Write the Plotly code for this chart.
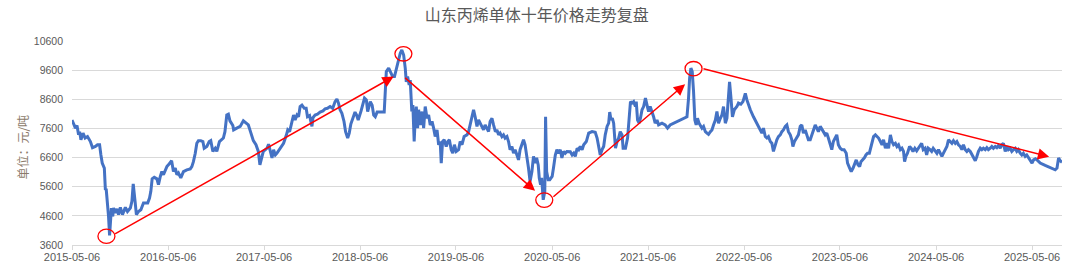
import plotly.graph_objects as go

title_text = "山东丙烯单体十年价格走势复盘"
y_title_text = "单位：元/吨"
tick_dates = ["2015-05-06", "2016-05-06", "2017-05-06", "2018-05-06", "2019-05-06", "2020-05-06",
              "2021-05-06", "2022-05-06", "2023-05-06", "2024-05-06", "2025-05-06"]
y_ticks = [3600, 4600, 5600, 6600, 7600, 8600, 9600, 10600]
y_tick_text = ["3600", "4600", "5600", "6600", "7600", "8600", "9600", "10600"]

dates = [
    # 2015-05 .. 2016-05
    "2015-05-06", "2015-05-12", "2015-05-19", "2015-05-25", "2015-05-31", "2015-06-04", "2015-06-09", "2015-06-17",
    "2015-06-25", "2015-07-04", "2015-07-15", "2015-07-23", "2015-08-03", "2015-08-11", "2015-08-19", "2015-08-24",
    "2015-08-29", "2015-09-06", "2015-09-10", "2015-09-13", "2015-09-18", "2015-09-22", "2015-09-26", "2015-09-29",
    "2015-10-03", "2015-10-08", "2015-10-11", "2015-10-18", "2015-10-24", "2015-10-30", "2015-11-06", "2015-11-14",
    "2015-11-25", "2015-12-03", "2015-12-14", "2015-12-20", "2015-12-25", "2016-01-01", "2016-01-06", "2016-01-14",
    "2016-01-23", "2016-02-02", "2016-02-18", "2016-02-25", "2016-03-01", "2016-03-06", "2016-03-14", "2016-03-24",
    "2016-03-30", "2016-04-06", "2016-04-12", "2016-04-18", "2016-04-25", "2016-05-01",
    # 2016-05 .. 2017-05
    "2016-05-07", "2016-05-14", "2016-05-19", "2016-05-26", "2016-06-02", "2016-06-08", "2016-06-14", "2016-06-23",
    "2016-07-03", "2016-07-16", "2016-07-29", "2016-08-04", "2016-08-10", "2016-08-17", "2016-08-23", "2016-08-29",
    "2016-09-07", "2016-09-15", "2016-09-20", "2016-09-30", "2016-10-09", "2016-10-15", "2016-10-23", "2016-11-01",
    "2016-11-07", "2016-11-17", "2016-11-26", "2016-12-02", "2016-12-08", "2016-12-15", "2016-12-21", "2016-12-27",
    "2017-01-07", "2017-01-10", "2017-01-22", "2017-02-04", "2017-02-16", "2017-03-01", "2017-03-07", "2017-03-13",
    "2017-03-20", "2017-03-26", "2017-04-05", "2017-04-14", "2017-04-20", "2017-04-27", "2017-05-03",
    # 2017-05 .. 2018-05
    "2017-05-11", "2017-05-17", "2017-05-23", "2017-05-30", "2017-06-05", "2017-06-11", "2017-06-18", "2017-06-24",
    "2017-07-07", "2017-07-19", "2017-07-30", "2017-08-04", "2017-08-11", "2017-08-20", "2017-08-26", "2017-09-01",
    "2017-09-08", "2017-09-14", "2017-09-20", "2017-09-27", "2017-10-06", "2017-10-13", "2017-10-18", "2017-10-26",
    "2017-10-31", "2017-11-04", "2017-11-08", "2017-11-16", "2017-11-25", "2017-12-05", "2017-12-16", "2017-12-24",
    "2018-01-02", "2018-01-12", "2018-01-22", "2018-01-31", "2018-02-07", "2018-02-13", "2018-02-19", "2018-02-26",
    "2018-03-06", "2018-03-12", "2018-03-20", "2018-03-26", "2018-04-01", "2018-04-08", "2018-04-17", "2018-04-23",
    "2018-04-29",
    # 2018-05 .. 2019-05
    "2018-05-10", "2018-05-17", "2018-05-23", "2018-05-30", "2018-06-04", "2018-06-09", "2018-06-14", "2018-06-21",
    "2018-06-27", "2018-07-03", "2018-07-10", "2018-08-06", "2018-08-10", "2018-08-14", "2018-08-23", "2018-08-29",
    "2018-09-07", "2018-09-14", "2018-09-23", "2018-09-29", "2018-10-06", "2018-10-12", "2018-10-19", "2018-10-25",
    "2018-10-29", "2018-11-03", "2018-11-09", "2018-11-13", "2018-11-19", "2018-11-23", "2018-11-28", "2018-12-02",
    "2018-12-06", "2018-12-11", "2018-12-15", "2018-12-21", "2018-12-28", "2019-01-03", "2019-01-09", "2019-01-16",
    "2019-01-22", "2019-01-28", "2019-02-04", "2019-02-10", "2019-02-16", "2019-02-23", "2019-03-01", "2019-03-07",
    "2019-03-11", "2019-03-16", "2019-03-22", "2019-03-30", "2019-04-05", "2019-04-11", "2019-04-18", "2019-04-24",
    "2019-04-30",
    # 2019-05 .. 2020-05
    "2019-05-07", "2019-05-16", "2019-05-22", "2019-05-29", "2019-06-06", "2019-06-17", "2019-06-23", "2019-06-29",
    "2019-07-06", "2019-07-12", "2019-07-18", "2019-07-25", "2019-07-31", "2019-08-06", "2019-08-13", "2019-08-19",
    "2019-08-25", "2019-09-01", "2019-09-07", "2019-09-13", "2019-09-20", "2019-09-26", "2019-10-03", "2019-10-09",
    "2019-10-15", "2019-10-21", "2019-10-28", "2019-11-03", "2019-11-09", "2019-11-16", "2019-11-22", "2019-11-28",
    "2019-12-05", "2019-12-11", "2019-12-17", "2019-12-24", "2019-12-30", "2020-01-05", "2020-01-12", "2020-01-18",
    "2020-01-24", "2020-01-31", "2020-02-06", "2020-02-12", "2020-02-19", "2020-02-25", "2020-03-02", "2020-03-08",
    "2020-03-14", "2020-03-18", "2020-03-23", "2020-03-27", "2020-03-31", "2020-04-02", "2020-04-08", "2020-04-11",
    "2020-04-15", "2020-04-21", "2020-04-27",
    # 2020-05 .. 2021-05
    "2020-05-06", "2020-05-11", "2020-05-18", "2020-05-24", "2020-05-31", "2020-06-06", "2020-06-12", "2020-06-19",
    "2020-06-25", "2020-07-01", "2020-07-14", "2020-07-21", "2020-07-27", "2020-08-02", "2020-08-09", "2020-08-15",
    "2020-08-21", "2020-08-28", "2020-09-03", "2020-09-13", "2020-09-22", "2020-10-05", "2020-10-17", "2020-10-24",
    "2020-10-30", "2020-11-05", "2020-11-12", "2020-11-18", "2020-11-24", "2020-12-01", "2020-12-07", "2020-12-11",
    "2020-12-16", "2020-12-21", "2020-12-26", "2021-01-02", "2021-01-08", "2021-01-14", "2021-01-20", "2021-01-27",
    "2021-01-31", "2021-02-09", "2021-02-17", "2021-02-24", "2021-02-28", "2021-03-06", "2021-03-12", "2021-03-19",
    "2021-03-22", "2021-03-27", "2021-04-02", "2021-04-07", "2021-04-13", "2021-04-19", "2021-04-26", "2021-05-02",
    # 2021-05 .. 2022-05
    "2021-05-08", "2021-05-14", "2021-05-21", "2021-05-27", "2021-06-02", "2021-06-09", "2021-06-15", "2021-06-28",
    "2021-07-10", "2021-07-19", "2021-07-29", "2021-08-23", "2021-09-18", "2021-10-01", "2021-10-07", "2021-10-11",
    "2021-10-16", "2021-10-21", "2021-10-26", "2021-10-31", "2021-11-05", "2021-11-10", "2021-11-16", "2021-11-21",
    "2021-11-27", "2021-12-03", "2021-12-10", "2021-12-16", "2021-12-22", "2021-12-29", "2022-01-04", "2022-01-10",
    "2022-01-17", "2022-01-23", "2022-01-29", "2022-02-05", "2022-02-11", "2022-02-17", "2022-02-24", "2022-03-02",
    "2022-03-08", "2022-03-12", "2022-03-17", "2022-03-23", "2022-03-30", "2022-04-09", "2022-04-15", "2022-04-24",
    "2022-05-02",
    # 2022-05 .. 2023-05
    "2022-05-11", "2022-05-17", "2022-05-23", "2022-05-30", "2022-06-11", "2022-06-24", "2022-07-04", "2022-07-13",
    "2022-07-19", "2022-07-26", "2022-08-01", "2022-08-07", "2022-08-14", "2022-08-20", "2022-08-26", "2022-09-02",
    "2022-09-08", "2022-09-14", "2022-09-21", "2022-09-27", "2022-10-03", "2022-10-10", "2022-10-16", "2022-10-22",
    "2022-10-29", "2022-11-04", "2022-11-08", "2022-11-14", "2022-11-21", "2022-11-29", "2022-12-06", "2022-12-12",
    "2022-12-18", "2022-12-25", "2022-12-31", "2023-01-06", "2023-01-13", "2023-01-19", "2023-01-25", "2023-02-01",
    "2023-02-07", "2023-02-13", "2023-02-20", "2023-02-26", "2023-03-04", "2023-03-11", "2023-03-17", "2023-03-23",
    "2023-03-30", "2023-04-05", "2023-04-11", "2023-04-18", "2023-04-24", "2023-04-30",
    # 2023-05 .. 2024-05
    "2023-05-07", "2023-05-14", "2023-05-22", "2023-05-30", "2023-06-04", "2023-06-12", "2023-06-18", "2023-06-25",
    "2023-07-01", "2023-07-07", "2023-07-14", "2023-07-20", "2023-07-25", "2023-07-31", "2023-08-07", "2023-08-13",
    "2023-08-19", "2023-08-26", "2023-09-01", "2023-09-07", "2023-09-11", "2023-09-18", "2023-09-24", "2023-09-30",
    "2023-10-07", "2023-10-13", "2023-10-19", "2023-10-26", "2023-11-01", "2023-11-07", "2023-11-14", "2023-11-20",
    "2023-11-26", "2023-12-03", "2023-12-09", "2023-12-15", "2023-12-22", "2023-12-28", "2024-01-03", "2024-01-07",
    "2024-01-12", "2024-01-18", "2024-01-26", "2024-02-01", "2024-02-08", "2024-02-15", "2024-02-22", "2024-02-28",
    "2024-03-06", "2024-03-12", "2024-03-18", "2024-03-25", "2024-03-31", "2024-04-06", "2024-04-13", "2024-04-19",
    "2024-04-25", "2024-05-02",
    # 2024-05 .. 2025-05
    "2024-05-09", "2024-05-15", "2024-05-22", "2024-05-28", "2024-06-03", "2024-06-10", "2024-06-16", "2024-06-22",
    "2024-06-29", "2024-07-05", "2024-07-11", "2024-07-18", "2024-07-24", "2024-07-30", "2024-08-06", "2024-08-12",
    "2024-08-18", "2024-08-25", "2024-08-31", "2024-09-06", "2024-09-13", "2024-09-19", "2024-09-25", "2024-10-02",
    "2024-10-08", "2024-10-14", "2024-10-21", "2024-10-27", "2024-11-02", "2024-11-09", "2024-11-15", "2024-11-21",
    "2024-11-28", "2024-12-04", "2024-12-10", "2024-12-17", "2024-12-23", "2024-12-29", "2025-01-05", "2025-01-11",
    "2025-01-17", "2025-01-24", "2025-01-30", "2025-02-05", "2025-02-12", "2025-02-18", "2025-02-24", "2025-03-03",
    "2025-03-09", "2025-03-15", "2025-03-22", "2025-03-28", "2025-04-03", "2025-04-10", "2025-04-16", "2025-04-22",
    "2025-04-29",
    # 2025-05 ..
    "2025-05-06", "2025-05-12", "2025-05-19", "2025-05-25", "2025-05-31", "2025-06-06", "2025-06-25", "2025-07-14",
    "2025-08-02", "2025-08-09", "2025-08-15", "2025-08-21", "2025-08-28",
]

prices = [
    # 2015-05 .. 2016-05
    7890, 7780, 7610, 7700, 7380, 7490, 7210, 7440,
    7270, 7320, 7150, 6940, 6980, 7040, 7040, 6690,
    6410, 6240, 5490, 5530, 5100, 4580, 3930, 4410,
    4870, 4580, 4870, 4700, 4840, 4640, 4890, 4640,
    4890, 4750, 4870, 5100, 5700, 5100, 4640, 4750,
    4810, 5040, 5040, 5210, 5440, 5870, 5920, 5870,
    5670, 5950, 6120, 6010, 6180, 6290,
    # 2016-05 .. 2017-05
    6350, 6460, 6490, 6120, 6240, 6010, 6070, 5900,
    6120, 6180, 6210, 6290, 6460, 6750, 7090, 7180,
    7180, 7150, 6920, 6980, 7150, 7180, 6810, 6920,
    6810, 7150, 7210, 7270, 7490, 8060, 8090, 7860,
    7700, 7550, 7610, 7670, 7860, 7780, 7720, 7550,
    7380, 7180, 7040, 6810, 6350, 6640, 6810,
    # 2017-05 .. 2018-05
    6870, 6920, 7060, 6810, 6590, 6870, 6690, 6750,
    6920, 7090, 7380, 7550, 7490, 7780, 8060, 7890,
    8060, 8000, 8350, 8400, 8290, 8290, 8000, 8040,
    7840, 7670, 7970, 8060, 8090, 8160, 8200, 8270,
    8290, 8350, 8290, 8520, 8610, 8470, 8240, 8120,
    7840, 7490, 7270, 7440, 7750, 7970, 8160, 8060,
    7890,
    # 2018-05 .. 2019-05
    8200, 8400, 8640, 8580, 8180, 8350, 8520, 8400,
    8060, 8000, 8160, 8160, 8750, 9550, 9670, 9570,
    9380, 9380, 9720, 10000, 10180, 10290, 10120, 9670,
    9200, 9380, 9090, 9260, 8180, 8400, 7150, 7950,
    8350, 7610, 8240, 7720, 8180, 7610, 8350, 7950,
    8060, 7720, 7840, 7610, 7320, 7550, 7040, 7150,
    6410, 7150, 7210, 6980, 7150, 7210, 6870, 6750,
    7040,
    # 2019-05 .. 2020-05
    6810, 6870, 7150, 7040, 7320, 7380, 7490, 7720,
    7950, 8240, 8000, 7670, 7890, 7780, 7670, 7550,
    7720, 7610, 7490, 7840, 7950, 7720, 7490, 7550,
    7380, 7440, 7320, 7380, 7270, 7320, 7150, 6870,
    6980, 6750, 6870, 6690, 6520, 6870, 7090, 7210,
    7040, 6640, 6240, 5780, 6120, 6640, 6410, 6590,
    6350, 5900, 5670, 5900, 5380, 5150, 5440, 8000,
    6120, 5840, 5840,
    # 2020-05 .. 2021-05
    5950, 6240, 6690, 6870, 6750, 6870, 6590, 6810,
    6750, 6810, 6800, 6690, 6750, 6640, 6920, 6870,
    6980, 6870, 7040, 7150, 7440, 7490, 7470, 7270,
    6920, 6690, 6870, 6980, 7380, 7670, 7780, 8160,
    7890, 7950, 7780, 6920, 7150, 7270, 7490, 7380,
    6920, 6920, 7270, 8060, 8520, 8470, 8520, 8350,
    8520, 7890, 7780, 7950, 8240, 8350, 8640, 8400,
    # 2021-05 .. 2022-05
    8180, 8350, 8180, 8000, 7780, 7890, 7720, 7780,
    7720, 7610, 7720, 7840, 7950, 8000, 8640, 9320,
    9670, 9550, 8870, 7890, 7720, 7950, 7780, 7720,
    7610, 7670, 7490, 7440, 7400, 7490, 7550, 7720,
    7890, 8180, 7780, 7950, 8060, 8350, 7780, 7950,
    8870, 9200, 8690, 8000, 8240, 8350, 8470, 8430,
    8520,
    # 2022-05 .. 2023-05
    8800, 8580, 8400, 8240, 8000, 7780, 7610, 7440,
    7610, 7320, 7270, 7320, 7150, 7090, 6810, 7040,
    7210, 7320, 7380, 7490, 7550, 7670, 7720, 7490,
    7380, 7210, 6980, 7150, 7270, 7380, 7670, 7720,
    7440, 7550, 7380, 7210, 7210, 7380, 7550, 7720,
    7610, 7490, 7670, 7550, 7490, 7380, 7440, 7270,
    7040, 6870, 7150, 7270, 7380, 7040,
    # 2023-05 .. 2024-05
    6920, 6870, 6870, 6750, 6410, 6240, 6120, 6240,
    6410, 6520, 6350, 6290, 6460, 6520, 6590, 6690,
    6750, 6750, 6980, 7150, 7320, 7380, 7320, 7270,
    7150, 7040, 7210, 6920, 7090, 6920, 7380, 7150,
    7040, 7090, 6980, 7040, 6870, 6920, 6810, 6460,
    6640, 6750, 6980, 6920, 6810, 6920, 6830, 6920,
    7040, 7090, 6870, 6920, 6690, 6920, 6870, 6810,
    6920, 6810,
    # 2024-05 .. 2025-05
    6750, 6870, 6750, 6640, 6750, 6870, 6980, 7210,
    7150, 7090, 7180, 7090, 7150, 7040, 6980, 6870,
    7040, 6870, 6810, 6870, 6810, 6690, 6590, 6490,
    6640, 6810, 6920, 6870, 6920, 6870, 6940, 6870,
    6920, 6980, 6920, 6980, 6940, 7010, 6920, 7040,
    7090, 6810, 6980, 6870, 6920, 6810, 6870, 6920,
    6810, 6870, 6750, 6690, 6750, 6640, 6690, 6590,
    6520,
    # 2025-05 ..
    6410, 6520, 6560, 6520, 6460, 6410, 6330, 6260,
    6180, 6240, 6590, 6490, 6440,
]

# turning points marked with red circles
circle_dates = ["2015-09-14", "2018-10-18", "2020-04-06", "2021-10-26"]
circle_values = [3900, 10160, 5140, 9650]

# trend arrows (tail -> head)
arrow_tail_dates = ["2015-10-11", "2018-10-19", "2020-05-05", "2021-11-27"]
arrow_tail_values = [3950, 9380, 5210, 9660]
arrow_head_dates = ["2018-09-11", "2020-03-02", "2021-09-24", "2025-07-10"]
arrow_head_values = [9380, 5460, 9120, 6630]

fig = go.Figure()
fig.add_trace(go.Scatter(
    x=dates, y=prices, mode="lines",
    line=dict(color="#4472C4", width=3),
    hoverinfo="skip", showlegend=False,
))

for d, v in zip(circle_dates, circle_values):
    fig.add_shape(
        type="circle", xref="x", yref="y",
        xsizemode="pixel", ysizemode="pixel",
        xanchor=d, yanchor=v, x0=-8.5, x1=8.5, y0=-7.2, y1=7.2,
        line=dict(color="#FF0000", width=1.3),
    )

for td, tv, hd, hv in zip(arrow_tail_dates, arrow_tail_values, arrow_head_dates, arrow_head_values):
    fig.add_annotation(
        x=hd, y=hv, ax=td, ay=tv,
        xref="x", yref="y", axref="x", ayref="y",
        text="", showarrow=True, arrowhead=2, arrowsize=1.5,
        arrowwidth=1.5, arrowcolor="#FF0000", standoff=0, startstandoff=0,
    )

fig.add_annotation(
    text=y_title_text, xref="paper", yref="paper",
    x=-0.05, y=0.48, xanchor="center", yanchor="middle",
    textangle=-90, showarrow=False,
    font=dict(family="Noto Sans CJK SC", size=12, color="#8B7B6B"),
)

fig.update_layout(
    width=1080, height=272,
    margin=dict(l=72, r=18, t=41, b=27, autoexpand=False),
    paper_bgcolor="white", plot_bgcolor="white",
    showlegend=False,
    title=dict(
        text=title_text, x=0.497, xanchor="center", y=1 - 15 / 272, yanchor="middle",
        font=dict(family="Noto Sans CJK SC", size=16, color="#595959"),
    ),
    xaxis=dict(
        type="date", range=["2015-05-06", "2025-08-28"],
        tickvals=tick_dates, ticktext=tick_dates,
        showgrid=False, zeroline=False, automargin=False,
        showline=True, linecolor="#D9D9D9", linewidth=1,
        ticks="outside", ticklen=4, tickcolor="#D9D9D9",
        ticklabelstandoff=-2,
        tickfont=dict(family="Liberation Sans", size=11, color="#595959"),
    ),
    yaxis=dict(
        range=[3600, 10600], tickvals=y_ticks, ticktext=y_tick_text,
        showgrid=True, gridcolor="#D9D9D9", gridwidth=1,
        zeroline=False, showline=False, ticks="", automargin=False,
        ticklabelstandoff=8,
        tickfont=dict(family="Liberation Sans", size=10.5, color="#595959"),
    ),
)

fig.write_html("out.html")
